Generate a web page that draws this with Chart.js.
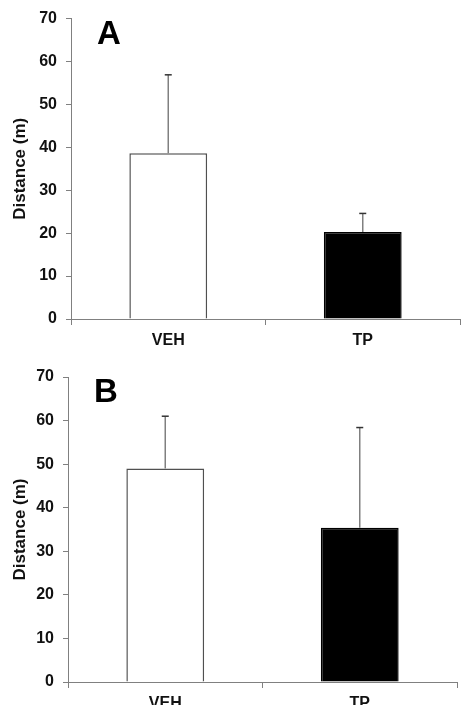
<!DOCTYPE html>
<html>
<head>
<meta charset="utf-8">
<script src="https://cdn.jsdelivr.net/npm/chart.js@4/dist/chart.umd.min.js"></script>
<style>
  html, body { margin: 0; padding: 0; background: #fff; overflow: hidden; }
  #wrap { position: relative; width: 469px; height: 705px; }
  canvas { position: absolute; left: 0; }
  #chartA { top: 0; }
  #chartB { top: 350px; }
</style>
</head>
<body>
<div id="wrap">
  <canvas id="chartA" width="469" height="350"></canvas>
  <canvas id="chartB" width="469" height="355"></canvas>
</div>
<script>
// data
const categories = ['VEH', 'TP'];
const meansA = [38.6, 20.3];
const errA = [18.3, 4.3];
const meansB = [49.0, 35.4];
const errB = [12.0, 23.0];
const yMin = 0, yMax = 70, yStep = 10;
const barColors = ['#ffffff', '#000000'];
const barBorders = ['#505050', '#000000'];

// upper error bars only, drawn from bar top
const errorBarPlugin = {
  id: 'errorBars',
  afterDatasetsDraw(chart, args, opts) {
    const ctx = chart.ctx;
    const yScale = chart.scales.y;
    const meta = chart.getDatasetMeta(0);
    const ds = chart.data.datasets[0];
    ctx.save();
    meta.data.forEach((bar, i) => {
      const top = yScale.getPixelForValue(ds.data[i] + opts.errors[i]);
      ctx.strokeStyle = '#808080';
      ctx.lineWidth = 1.5;
      ctx.beginPath();
      ctx.moveTo(bar.x, bar.y);
      ctx.lineTo(bar.x, top);
      ctx.stroke();
      ctx.strokeStyle = '#333';
      ctx.beginPath();
      ctx.moveTo(bar.x - 3.5, top);
      ctx.lineTo(bar.x + 3.5, top);
      ctx.stroke();
    });
    ctx.restore();
  }
};

// big panel letter in the top-left of the plot area
const panelLetterPlugin = {
  id: 'panelLetter',
  afterDraw(chart, args, opts) {
    const ctx = chart.ctx;
    const area = chart.chartArea;
    ctx.save();
    ctx.font = 'bold 33px "Liberation Sans", Arial, sans-serif';
    ctx.fillStyle = '#000';
    ctx.textBaseline = 'alphabetic';
    ctx.fillText(opts.text, area.left + 26, area.top + 25);
    ctx.restore();
  }
};

const tickFont = { family: '"Liberation Sans", Arial, sans-serif', size: 16, weight: 'bold' };

function makeChart(id, means, errs, letter, yWidth, xHeight, pad) {
  return new Chart(document.getElementById(id), {
    type: 'bar',
    data: {
      labels: categories,
      datasets: [{
        data: means,
        backgroundColor: barColors,
        borderColor: barBorders,
        borderWidth: 1.5,
        borderSkipped: 'bottom',
        barPercentage: 0.4,
        categoryPercentage: 1.0
      }]
    },
    options: {
      responsive: false,
      animation: false,
      layout: { padding: pad },
      plugins: {
        legend: { display: false },
        tooltip: { enabled: false },
        errorBars: { errors: errs },
        panelLetter: { text: letter }
      },
      scales: {
        x: {
          afterFit: s => { s.height = xHeight; },
          border: { display: true, color: '#808080', width: 1 },
          grid: { drawOnChartArea: false, drawTicks: true, tickLength: 6, color: '#808080', offset: true },
          ticks: { color: '#111', font: tickFont, padding: 6 }
        },
        y: {
          min: yMin,
          max: yMax,
          afterFit: s => { s.width = yWidth; },
          border: { display: true, color: '#808080', width: 1 },
          grid: { drawOnChartArea: false, drawTicks: true, tickLength: 5, color: '#808080' },
          ticks: { stepSize: yStep, color: '#111', font: tickFont, padding: 9 },
          title: {
            display: true,
            text: 'Distance (m)',
            color: '#111',
            font: { family: '"Liberation Sans", Arial, sans-serif', size: 17, weight: 'bold' },
            padding: { top: 10, bottom: 0 }
          }
        }
      }
    },
    plugins: [errorBarPlugin, panelLetterPlugin]
  });
}

makeChart('chartA', meansA, errA, 'A', 71, 31, { left: 0, right: 9, top: 14, bottom: 0 });
makeChart('chartB', meansB, errB, 'B', 68, 23, { left: 0, right: 12, top: 27, bottom: 0 });
</script>
</body>
</html>
